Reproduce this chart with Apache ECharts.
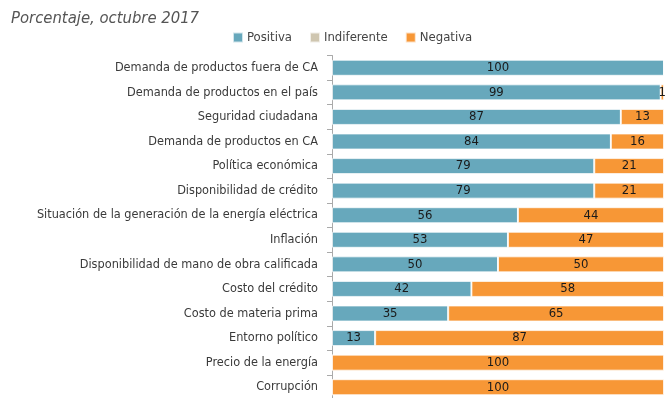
<!DOCTYPE html>
<html>
<head>
<meta charset="utf-8">
<script src="https://cdn.jsdelivr.net/npm/echarts@6/dist/echarts.min.js"></script>
<style>
  html, body { margin: 0; padding: 0; background: #fff; overflow: hidden; }
  #chart { width: 668px; height: 404px; }
</style>
</head>
<body>
<div id="chart"></div>
<script>
// Business-environment factors, ordered top to bottom
const categories = [
  'Demanda de productos fuera de CA',
  'Demanda de productos en el país',
  'Seguridad ciudadana',
  'Demanda de productos en CA',
  'Política económica',
  'Disponibilidad de crédito',
  'Situación de la generación de la energía eléctrica',
  'Inflación',
  'Disponibilidad de mano de obra calificada',
  'Costo del crédito',
  'Costo de materia prima',
  'Entorno político',
  'Precio de la energía',
  'Corrupción'
];
const positiva    = [100, 99, 87, 84, 79, 79, 56, 53, 50, 42, 35, 13, 0, 0];
const indiferente = [0, 0, 0, 0, 0, 0, 0, 0, 0, 0, 0, 0, 0, 0];
const negativa    = [0, 1, 13, 16, 21, 21, 44, 47, 50, 58, 65, 87, 100, 100];

const FONT = 'DejaVu Sans Condensed';
const chart = echarts.init(document.getElementById('chart'), null, { renderer: 'canvas' });

const barLabel = {
  show: true,
  position: 'inside',
  color: '#1a1a1a',
  fontFamily: FONT,
  fontSize: 13,
  formatter: p => (p.value > 0 ? p.value : '')
};

function makeSeries(name, data, color) {
  return {
    name: name,
    type: 'bar',
    stack: 'total',
    data: data,
    barCategoryGap: '35%',
    itemStyle: { color: color, borderColor: 'rgba(255,255,255,0.7)', borderWidth: 1 },
    label: barLabel,
    emphasis: { disabled: true }
  };
}

chart.setOption({
  animation: false,
  title: {
    text: 'Porcentaje, octubre 2017',
    left: 6,
    top: 5,
    textStyle: { fontFamily: FONT, fontStyle: 'italic', fontWeight: 'normal', fontSize: 16.5, color: '#555' }
  },
  legend: {
    top: 26,
    left: 227,
    itemWidth: 10,
    itemHeight: 10,
    itemGap: 17,
    icon: 'rect',
    textStyle: { fontFamily: FONT, fontSize: 13, color: '#444', padding: [0, 0, 0, -1] },
    data: ['Positiva', 'Indiferente', 'Negativa']
  },
  grid: { left: 332, right: 4, top: 55.5, height: 344, containLabel: false },
  xAxis: {
    type: 'value',
    min: 0,
    max: 100,
    show: false
  },
  yAxis: {
    type: 'category',
    inverse: true,
    data: categories,
    axisLine: { show: true, lineStyle: { color: '#aaa', width: 1 } },
    axisTick: { show: true, length: 5, lineStyle: { color: '#aaa' } },
    axisLabel: { fontFamily: FONT, fontSize: 12.6, color: '#3a3a3a', margin: 14 }
  },
  series: [
    makeSeries('Positiva', positiva, '#67a8bc'),
    makeSeries('Indiferente', indiferente, '#cfc6b0'),
    makeSeries('Negativa', negativa, '#f79736')
  ]
});
</script>
</body>
</html>
